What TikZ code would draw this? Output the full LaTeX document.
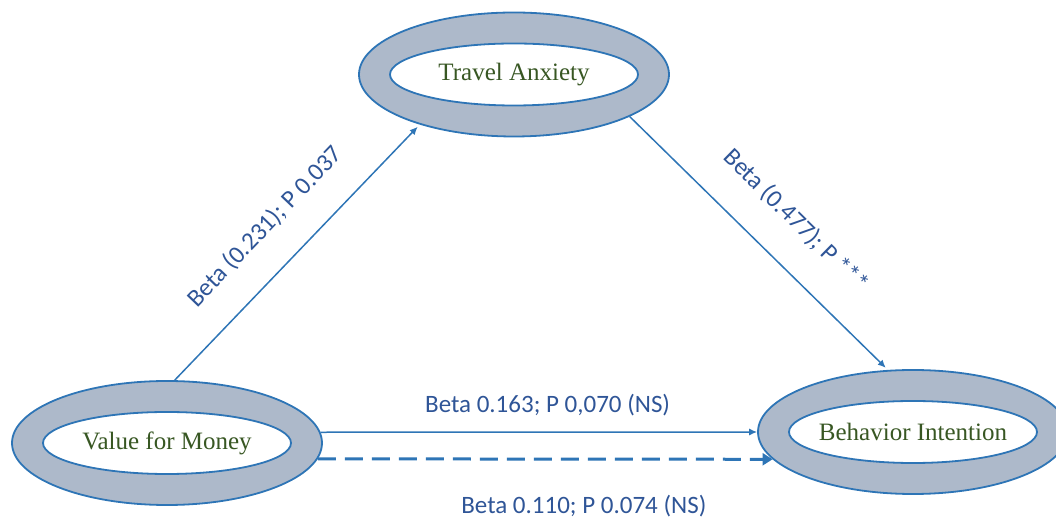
\documentclass[tikz,border=0pt]{standalone}
\usepackage{fontspec}
\setmainfont{Liberation Serif}
\newfontfamily\betafont{Carlito}
\usepackage{tikz}
\usetikzlibrary{arrows.meta,shapes.geometric}
\definecolor{edgeblue}{RGB}{46,117,182}
\definecolor{ringfill}{RGB}{173,185,202}
\definecolor{namegreen}{RGB}{56,87,35}
\definecolor{betablue}{RGB}{47,85,151}
\tikzset{
  ring/.style={ellipse,draw=edgeblue,fill=ringfill,line width=0.9pt,
    minimum width=155pt,minimum height=62pt,inner sep=0pt},
  hole/.style={ellipse,draw=edgeblue,fill=white,line width=0.9pt,
    minimum width=124pt,minimum height=31pt,inner sep=0pt},
  varname/.style={font=\fontsize{12.5}{15}\selectfont,text=namegreen},
  effect/.style={edgeblue,line width=0.75pt,-{Latex[length=4pt,width=3.6pt]}},
  weakeffect/.style={edgeblue,line width=1.5pt,dash pattern=on 9pt off 4.5pt,
    -{Triangle[length=5pt,width=6pt]}},
  beta/.style={font=\betafont\fontsize{12.5}{15}\selectfont,text=betablue}
}
\begin{document}
\begin{tikzpicture}[x=0.5pt,y=-0.5pt]
  \useasboundingbox (0,0) rectangle (1056,517);
  \node[ring] (ta) at (514,74.5) {};
  \node[hole,label={[varname]center:Travel Anxiety}] (taIn) at (ta) {};
  \node[ring] (vfm) at (167,443) {};
  \node[hole,label={[varname]center:Value for Money}] (vfmIn) at (vfm) {};
  \node[ring] (bi) at (913,432) {};
  \node[hole,label={[varname]center:Behavior Intention}] (biIn) at (bi) {};
  \draw[effect,shorten >=1.5pt] (vfm.83) -- (ta.208)
    node[beta,sloped,above=11.4pt,pos=0.49] {Beta (0.231); P 0.037};
  \draw[effect,shorten >=1.5pt] (ta.340) -- (bi.112)
    node[beta,sloped,above=12pt,pos=0.53] {Beta (0.477); P ***};
  \draw[effect] (vfm.4) -- (bi.west)
    node[beta,above=4.4pt,pos=0.52] {Beta 0.163; P 0,070 (NS)};
  \draw[weakeffect] (vfm.354) -- (bi.191)
    node[beta,below=13.9pt,pos=0.585] {Beta 0.110; P 0.074 (NS)};
\end{tikzpicture}
\end{document}
